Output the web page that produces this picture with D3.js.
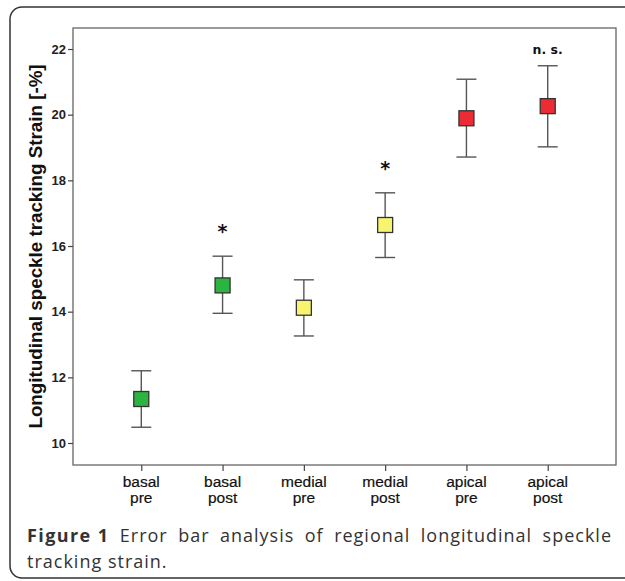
<!DOCTYPE html>
<html>
<head>
<meta charset="utf-8">
<script src="https://cdn.jsdelivr.net/npm/d3@7"></script>
<style>
  html, body { margin: 0; padding: 0; background: #fff; }
  svg { display: block; }
</style>
</head>
<body>
<div id="chart"></div>
<script>
// Regional strain values
const groups = ['basal pre', 'basal post', 'medial pre', 'medial post', 'apical pre', 'apical post'];
const means = [11.34, 14.80, 14.12, 16.64, 19.89, 20.26];
const lower = [10.48, 13.95, 13.26, 15.65, 18.71, 19.02];
const upper = [12.20, 15.69, 14.97, 17.62, 21.08, 21.49];
const colors = ['#2bb540', '#2bb540', '#f7f56e', '#f7f56e', '#ec2b34', '#ec2b34'];
const marks = ['', '*', '', '*', '', 'n. s.'];
const yTicks = [10, 12, 14, 16, 18, 20, 22];

const W = 625, H = 581;
const plot = { left: 73, top: 28, right: 616, bottom: 465 };

const svg = d3.select('#chart').append('svg')
    .attr('width', W)
    .attr('height', H);

// outer rounded frame (runs off the right edge)
svg.append('rect')
    .attr('x', 10).attr('y', 7)
    .attr('width', 640).attr('height', 571)
    .attr('rx', 12).attr('ry', 12)
    .attr('fill', 'none')
    .attr('stroke', '#333')
    .attr('stroke-width', 1.5);

const x = d3.scalePoint()
    .domain(groups)
    .range([plot.left, plot.right])
    .padding(0.84);

const y = d3.scaleLinear()
    .domain([9.33, 22.64])
    .range([plot.bottom, plot.top]);

// plot box
svg.append('rect')
    .attr('x', plot.left).attr('y', plot.top)
    .attr('width', plot.right - plot.left)
    .attr('height', plot.bottom - plot.top)
    .attr('fill', '#fff')
    .attr('stroke', '#666')
    .attr('stroke-width', 1.3);

// y axis
const yAxis = svg.append('g')
    .attr('transform', `translate(${plot.left},0)`)
    .call(d3.axisLeft(y).tickValues(yTicks).tickSize(5).tickPadding(2));
yAxis.select('.domain').remove();
yAxis.selectAll('line').attr('stroke', '#444').attr('stroke-width', 1.2);
yAxis.selectAll('text')
    .attr('font-family', '"Liberation Sans Narrow", "Arial Narrow", "Liberation Sans", sans-serif')
    .attr('font-weight', 'bold')
    .attr('font-size', 13)
    .attr('fill', '#222');

// x axis
const xAxis = svg.append('g')
    .attr('transform', `translate(0,${plot.bottom})`)
    .call(d3.axisBottom(x).tickSize(6).tickFormat(''));
xAxis.select('.domain').remove();
xAxis.selectAll('line').attr('stroke', '#444').attr('stroke-width', 1.2);

// two-line category labels
const lab = svg.append('g').selectAll('text')
    .data(groups)
    .enter().append('text')
    .attr('text-anchor', 'middle')
    .attr('font-family', '"Liberation Sans", Arial, sans-serif')
    .attr('font-size', 15.5)
    .attr('fill', '#111')
    .attr('stroke', '#111')
    .attr('stroke-width', 0.2);
lab.append('tspan')
    .attr('x', d => x(d)).attr('y', plot.bottom + 22)
    .text(d => d.split(' ')[0]);
lab.append('tspan')
    .attr('x', d => x(d)).attr('y', plot.bottom + 38)
    .text(d => d.split(' ')[1]);

// y axis title
svg.append('text')
    .attr('transform', `translate(42,${(63 + 430) / 2}) rotate(-90)`)
    .attr('text-anchor', 'middle')
    .attr('font-family', '"Liberation Sans", Arial, sans-serif')
    .attr('font-weight', 'bold')
    .attr('font-size', 18.8)
    .attr('fill', '#111')
    .text('Longitudinal speckle tracking Strain [-%]');

// error bars
const bars = svg.append('g').selectAll('g')
    .data(groups)
    .enter().append('g');

bars.append('line')
    .attr('x1', d => x(d)).attr('x2', d => x(d))
    .attr('y1', (d, i) => y(lower[i]))
    .attr('y2', (d, i) => y(upper[i]))
    .attr('stroke', '#555').attr('stroke-width', 1.4);

bars.selectAll('.cap')
    .data((d, i) => [{ g: d, v: lower[i] }, { g: d, v: upper[i] }])
    .enter().append('line')
    .attr('class', 'cap')
    .attr('x1', d => x(d.g) - 10).attr('x2', d => x(d.g) + 10)
    .attr('y1', d => y(d.v)).attr('y2', d => y(d.v))
    .attr('stroke', '#555').attr('stroke-width', 1.4);

const s = 15;
bars.append('rect')
    .attr('x', d => x(d) - s / 2)
    .attr('y', (d, i) => y(means[i]) - s / 2)
    .attr('width', s).attr('height', s)
    .attr('fill', (d, i) => colors[i])
    .attr('stroke', '#333').attr('stroke-width', 1.3);

// significance marks
svg.append('g').selectAll('text')
    .data(groups.filter((d, i) => marks[i]))
    .enter().append('text')
    .attr('x', d => x(d))
    .attr('y', d => {
        const i = groups.indexOf(d);
        return marks[i] === '*' ? y(upper[i]) - 28 + 10 : y(upper[i]) - 12;
    })
    .attr('text-anchor', 'middle')
    .attr('font-family', '"DejaVu Sans", sans-serif')
    .attr('font-weight', 'bold')
    .attr('font-size', d => marks[groups.indexOf(d)] === '*' ? 19 : 12.5)
    .attr('fill', '#111')
    .text(d => marks[groups.indexOf(d)]);

// caption, first line justified to the frame width
const cap = svg.append('text')
    .attr('font-family', '"Open Sans", "Noto Sans", sans-serif')
    .attr('font-size', 18)
    .attr('letter-spacing', 1.0)
    .attr('fill', '#333');
const l1 = cap.append('tspan').attr('x', 27).attr('y', 542);
l1.append('tspan').attr('font-weight', 'bold').attr('letter-spacing', 1.4).text('Figure 1');
const rest = l1.append('tspan').text(' Error bar analysis of regional longitudinal speckle');
cap.append('tspan').attr('x', 27).attr('y', 568).text('tracking strain.');

const box = l1.node().getBBox();
const gap = 612 - (box.x + box.width);
if (gap > 0) rest.attr('word-spacing', gap / 7);
</script>
</body>
</html>
